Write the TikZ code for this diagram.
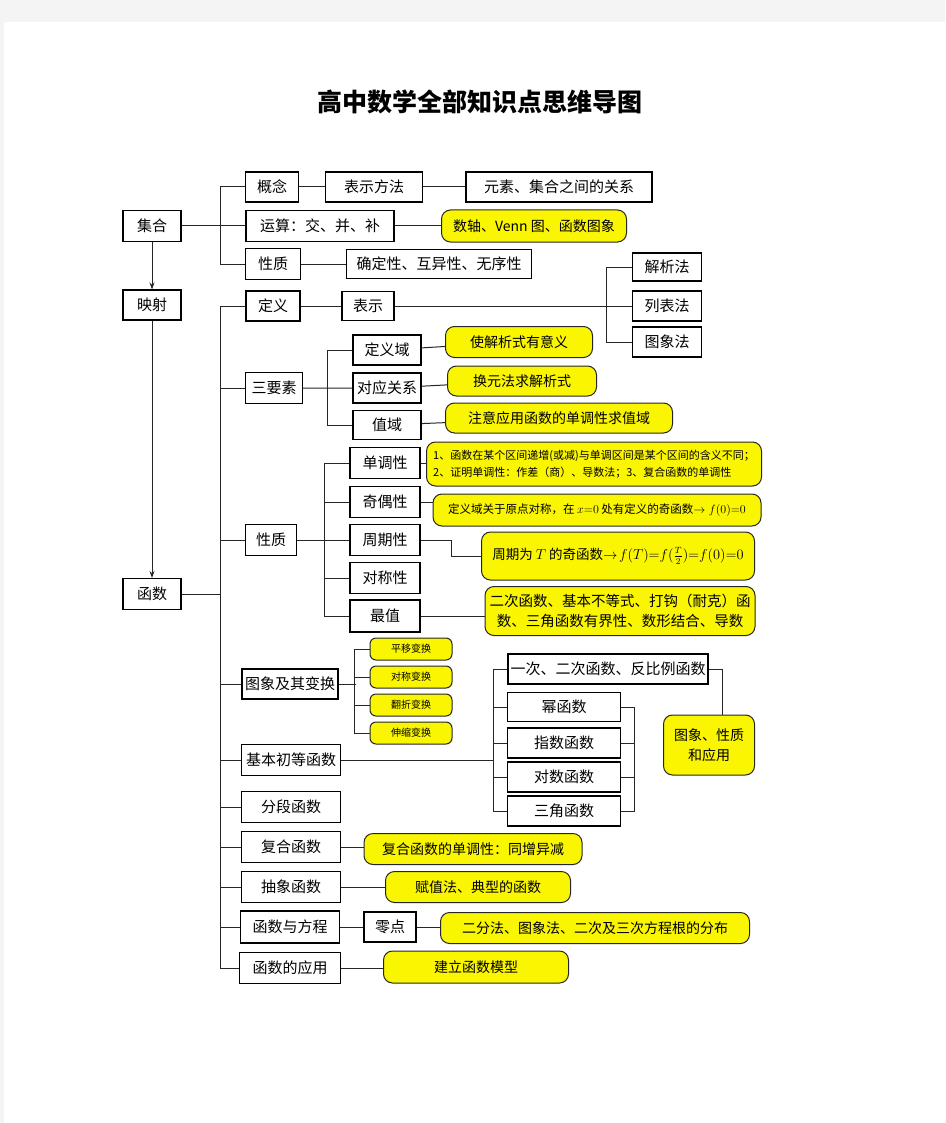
\documentclass[tikz,border=0pt]{standalone}
\usepackage{fontspec}
\setmainfont{Noto Sans CJK SC}
\usetikzlibrary{arrows.meta}
\definecolor{hlyellow}{RGB}{250,245,0}
\definecolor{pagegray}{RGB}{244,244,244}
\begin{document}
\begin{tikzpicture}[x=1pt,y=-1pt,
		every node/.style={inner sep=0pt},
		box/.style={draw,line width=1.1pt,fill=white,font=\fontsize{15}{18}\selectfont},
		note/.style={draw=black!85,line width=1pt,fill=hlyellow,rounded corners=9pt,
			align=center,font=\fontsize{14}{18}\selectfont},
		small note/.style={note,rounded corners=6pt,font=\fontsize{10}{12}\selectfont},
		link/.style={line width=1pt,black!85}
		]
		\useasboundingbox (0,0) rectangle (945,1123);
		\fill[pagegray] (0,0) rectangle (945,1123);
		\fill[white] (4,22) rectangle (945,1123);
		\node[font=\fontsize{25}{30}\selectfont\bfseries] (title) at (480,102) {高中数学全部知识点思维导图};
		% 集合
		\node[box,minimum width=58,minimum height=31] (jihe) at (152,226) {集合};
		\node[box,minimum width=58,minimum height=30] (yingshe) at (152,305) {映射};
		\node[box,minimum width=58,minimum height=31] (hanshu) at (152,594) {函数};
		\node[box,minimum width=53,minimum height=30] (gainian) at (272,187) {概念};
		\node[box,minimum width=97,minimum height=30] (fangfa) at (374,187) {表示方法};
		\node[box,minimum width=186,minimum height=30] (yuansu) at (559,187) {元素、集合之间的关系};
		\node[box,minimum width=148,minimum height=31] (yunsuan) at (320,226) {运算：交、并、补};
		\node[note,minimum width=185,minimum height=32] (venn) at (534,226) {数轴、Venn 图、函数图象};
		\node[box,minimum width=55,minimum height=31] (xingzhiA) at (273,264) {性质};
		\node[box,minimum width=185,minimum height=29] (queding) at (439,264) {确定性、互异性、无序性};
		% 函数: 定义
		\node[box,minimum width=54,minimum height=30] (dingyi) at (273,306) {定义};
		\node[box,minimum width=52,minimum height=29] (biaoshi) at (368,306) {表示};
		\node[box,minimum width=69,minimum height=28] (jiexi) at (667,267) {解析法};
		\node[box,minimum width=69,minimum height=30] (liebiao) at (667,306) {列表法};
		\node[box,minimum width=69,minimum height=30] (tuxiang) at (667,342) {图象法};
		% 三要素
		\node[box,minimum width=57,minimum height=31] (sanyaosu) at (274,388) {三要素};
		\node[box,minimum width=68,minimum height=30] (dingyiyu) at (387,350) {定义域};
		\node[box,minimum width=68,minimum height=30] (duiying) at (387,388) {对应关系};
		\node[box,minimum width=68,minimum height=29] (zhiyu) at (387,425) {值域};
		\node[note,minimum width=147,minimum height=31] (youyiyi) at (519,342) {使解析式有意义};
		\node[note,minimum width=149,minimum height=30] (huanyuan) at (522,381) {换元法求解析式};
		\node[note,minimum width=227,minimum height=30] (zhuyi) at (559,418) {注意应用函数的单调性求值域};
		% 性质
		\node[box,minimum width=51,minimum height=31] (xingzhiB) at (271,540) {性质};
		\node[box,minimum width=70,minimum height=31] (dandiao) at (385,463) {单调性};
		\node[box,minimum width=70,minimum height=31] (qiou) at (385,502) {奇偶性};
		\node[box,minimum width=70,minimum height=31] (zhouqi) at (385,540) {周期性};
		\node[box,minimum width=70,minimum height=31] (duicheng) at (385,578) {对称性};
		\node[box,minimum width=70,minimum height=32] (zuizhi) at (385,616) {最值};
		\node[note,align=left,minimum width=335,minimum height=44,font=\fontsize{11}{17}\selectfont] (danote) at (594,464)
			{1、函数在某个区间递增(或减)与单调区间是某个区间的含义不同；\\2、证明单调性：作差（商）、导数法；3、复合函数的单调性};
		\node[note,minimum width=328,minimum height=32,font=\fontsize{11.5}{14}\selectfont] (qinote) at (597,510)
			{定义域关于原点对称，在 $x{=}0$ 处有定义的奇函数$\rightarrow f(0){=}0$};
		\node[note,minimum width=273,minimum height=48,font=\fontsize{13.5}{16}\selectfont] (zhnote) at (618,556)
			{周期为 $T$ 的奇函数$\rightarrow\! f(T){=}f({\textstyle\frac{T}{2}}){=}f(0){=}0$};
		\node[note,minimum width=270,minimum height=49,font=\fontsize{14.5}{20}\selectfont] (zunote) at (620,611)
			{二次函数、基本不等式、打钩（耐克）函\\数、三角函数有界性、数形结合、导数};
		% 图象及其变换
		\node[box,minimum width=96,minimum height=30] (bianhuan) at (290,684) {图象及其变换};
		\node[small note,minimum width=82,minimum height=22] (pingyi) at (411,649) {平移变换};
		\node[small note,minimum width=82,minimum height=22] (duichengB) at (411,677) {对称变换};
		\node[small note,minimum width=82,minimum height=22] (fanzhe) at (411,705) {翻折变换};
		\node[small note,minimum width=82,minimum height=22] (shensuo) at (411,733) {伸缩变换};
		% 基本初等函数
		\node[box,minimum width=99,minimum height=31] (jiben) at (291,760) {基本初等函数};
		\node[box,minimum width=200,minimum height=30] (yici) at (608,669) {一次、二次函数、反比例函数};
		\node[box,minimum width=113,minimum height=29] (mi) at (564,707) {幂函数};
		\node[box,minimum width=113,minimum height=30] (zhishu) at (564,743) {指数函数};
		\node[box,minimum width=113,minimum height=30] (duishu) at (564,777) {对数函数};
		\node[box,minimum width=113,minimum height=30] (sanjiao) at (564,811) {三角函数};
		\node[note,minimum width=91,minimum height=60,font=\fontsize{14}{20}\selectfont] (yingyong) at (709,745) {图象、性质\\和应用};
		% 其余
		\node[box,minimum width=99,minimum height=31] (fenduan) at (291,807) {分段函数};
		\node[box,minimum width=99,minimum height=31] (fuhe) at (291,847) {复合函数};
		\node[note,minimum width=218,minimum height=31] (fuhenote) at (473,849) {复合函数的单调性：同增异减};
		\node[box,minimum width=99,minimum height=31] (chouxiang) at (291,887) {抽象函数};
		\node[note,minimum width=185,minimum height=31] (fuzhi) at (478,887) {赋值法、典型的函数};
		\node[box,minimum width=99,minimum height=32] (fangcheng) at (290,927) {函数与方程};
		\node[box,minimum width=52,minimum height=30] (lingdian) at (390,927) {零点};
		\node[note,minimum width=309,minimum height=31] (erfen) at (595,928) {二分法、图象法、二次及三次方程根的分布};
		\node[box,minimum width=101,minimum height=31] (yingyongB) at (290,968) {函数的应用};
		\node[note,minimum width=185,minimum height=32] (jianli) at (476,967) {建立函数模型};
		% connectors
		\coordinate (spine) at (220,0);
		\draw[link,-{Stealth[length=7pt,width=5pt]}] (jihe) -- (yingshe);
		\draw[link,-{Stealth[length=7pt,width=5pt]}] (yingshe) -- (hanshu);
		\draw[link] (jihe) -- (yunsuan) -- (venn);
		\draw[link] (gainian.west) -- (gainian.west -| spine) |- (xingzhiA.west);
		\draw[link] (gainian) -- (fangfa) -- (yuansu);
		\draw[link] (xingzhiA) -- (queding);
		\draw[link] (hanshu.east) -- (hanshu.east -| spine);
		\draw[link] (dingyi.west -| spine) |- (yingyongB.west);
		\foreach \n in {dingyi,sanyaosu,xingzhiB,bianhuan,jiben,fenduan,fuhe,chouxiang,fangcheng}
			\draw[link] (\n.west) -- (\n.west -| spine);
		\draw[link] (dingyi) -- (biaoshi) -- (liebiao);
		\draw[link] (jiexi.west) -- ++(-25,0) |- (tuxiang.west);
		\draw[link] (sanyaosu) -- (duiying) -- (huanyuan);
		\draw[link] (dingyiyu.west) -- ++(-25,0) |- (zhiyu.west);
		\draw[link] (dingyiyu) -- (youyiyi);
		\draw[link] (zhiyu) -- (zhuyi);
		\draw[link] (xingzhiB) -- (zhouqi);
		\draw[link] (dandiao.west) -- ++(-25,0) |- (zuizhi.west);
		\foreach \n in {qiou,duicheng}
			\draw[link] (\n.west) -- ++(-25,0);
		\draw[link] (dandiao) -- (danote.west |- dandiao);
		\draw[link] (qiou) -- (qinote.west |- qiou);
		\draw[link] (zhouqi.east) -- ++(31,0) |- (zhnote.west);
		\draw[link] (zuizhi) -- (zunote.west |- zuizhi);
		\draw[link] (bianhuan.east) -- ++(17,0);
		\draw[link] (pingyi.west) -- ++(-15,0) |- (shensuo.west);
		\foreach \n in {duichengB,fanzhe}
			\draw[link] (\n.west) -- ++(-15,0);
		\draw[link] (jiben.east) -- (jiben.east -| {(494,0)});
		\draw[link] (yici.west) -- ++(-14,0) |- (sanjiao.west);
		\foreach \n in {mi,zhishu,duishu}
			\draw[link] (\n.west) -- ++(-14,0);
		\draw[link] (mi.east) -- ++(13,0) |- (sanjiao.east);
		\foreach \n in {zhishu,duishu}
			\draw[link] (\n.east) -- ++(13,0);
		\draw[link] (yici.east) -| ([xshift=13pt]yingyong.north);
		\draw[link] (fuhe) -- (fuhenote.west |- fuhe);
		\draw[link] (chouxiang) -- (fuzhi);
		\draw[link] (fangcheng) -- (lingdian) -- (erfen.west |- lingdian);
		\draw[link] (yingyongB) -- (jianli.west |- yingyongB);
\end{tikzpicture}
\end{document}
